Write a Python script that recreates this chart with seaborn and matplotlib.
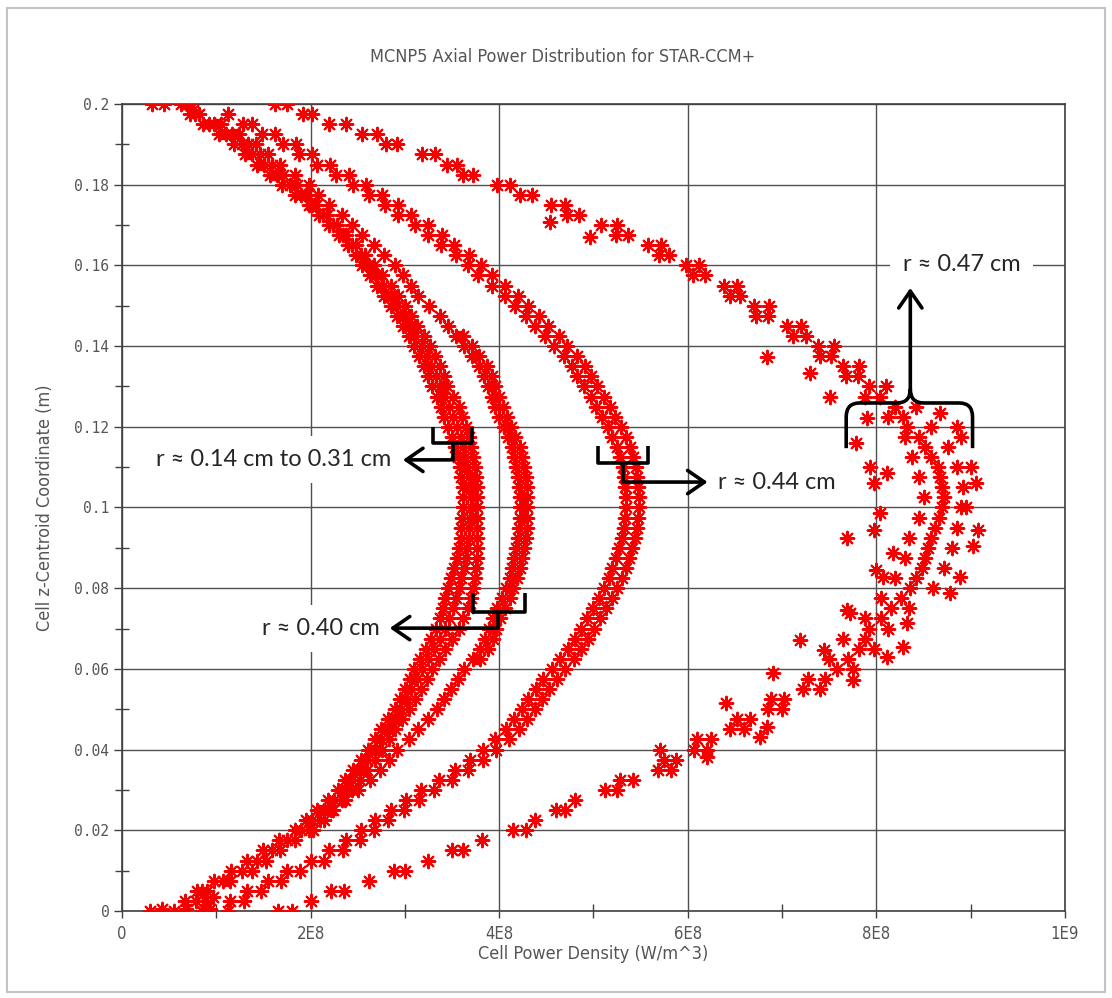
import matplotlib
matplotlib.use("Agg")
import matplotlib.pyplot as plt
from matplotlib.patches import Rectangle, PathPatch
from matplotlib.path import Path
import numpy as np
import pandas as pd
import seaborn as sns

nan = np.nan

# cell z-centroid levels (m)
z_levels = [0.2, 0.1975, 0.195, 0.1925, 0.19, 0.1875, 0.185, 0.1825, 0.18, 0.1775,
            0.175, 0.1725, 0.17, 0.1675, 0.165, 0.1625, 0.16, 0.1575, 0.155, 0.1525,
            0.15, 0.1475, 0.145, 0.1425, 0.14, 0.1375, 0.135, 0.1325, 0.13, 0.1275,
            0.125, 0.1225, 0.12, 0.1175, 0.115, 0.1125, 0.11, 0.1075, 0.105, 0.1025,
            0.1, 0.0975, 0.095, 0.0925, 0.09, 0.0875, 0.085, 0.0825, 0.08, 0.0775,
            0.075, 0.0725, 0.07, 0.0675, 0.065, 0.0625, 0.06, 0.0575, 0.055, 0.0525,
            0.05, 0.0475, 0.045, 0.0425, 0.04, 0.0375, 0.035, 0.0325, 0.03, 0.0275,
            0.025, 0.0225, 0.02, 0.0175, 0.015, 0.0125, 0.01, 0.0075, 0.005, 0.0025,
            0.0]

# cell power density, in units of 1E8 W/m^3
# r ~ 0.14 cm to 0.31 cm (thick inner band)
a_left = [0.32, 0.72, 0.86, 1.03, 1.19, 1.30, 1.43, 1.57, 1.70, 1.83,
          1.98, 2.09, 2.20, 2.30, 2.40, 2.48, 2.55, 2.63, 2.70, 2.78,
          2.85, 2.92, 2.98, 3.04, 3.10, 3.15, 3.20, 3.25, 3.29, 3.34,
          3.38, 3.42, 3.46, 3.50, 3.53, 3.56, 3.58, 3.60, 3.62, 3.62,
          3.62, 3.61, 3.60, 3.59, 3.57, 3.55, 3.52, 3.49, 3.46, 3.43,
          3.40, 3.37, 3.33, 3.28, 3.22, 3.16, 3.10, 3.05, 3.00, 2.95,
          2.89, 2.82, 2.75, 2.68, 2.61, 2.53, 2.45, 2.37, 2.29, 2.18,
          2.07, 1.95, 1.83, 1.67, 1.50, 1.33, 1.16, 0.98, 0.80, 0.67,
          0.30]
a_mid = [0.45, 0.77, 0.92, 1.10, 1.27, 1.38, 1.51, 1.64, 1.78, 1.90,
         2.02, 2.13, 2.24, 2.34, 2.44, 2.53, 2.61, 2.69, 2.77, 2.85,
         2.92, 2.99, 3.05, 3.11, 3.18, 3.23, 3.28, 3.33, 3.37, 3.42,
         3.47, 3.51, 3.55, 3.59, 3.62, 3.64, 3.66, 3.68, 3.69, 3.70,
         3.70, 3.69, 3.68, 3.68, 3.66, 3.65, 3.63, 3.60, 3.57, 3.54,
         3.51, 3.47, 3.43, 3.37, 3.31, 3.24, 3.18, 3.13, 3.07, 3.02,
         2.96, 2.89, 2.82, 2.75, 2.68, 2.60, 2.52, 2.44, 2.36, 2.25,
         2.14, 2.02, 1.90, 1.75, 1.59, 1.43, 1.27, 1.07, 0.85, 0.78,
         0.55]
a_right = [0.70, 0.82, 0.98, 1.17, 1.34, 1.46, 1.59, 1.71, 1.86, 1.96,
           2.06, 2.17, 2.28, 2.38, 2.48, 2.58, 2.67, 2.76, 2.85, 2.93,
           3.00, 3.07, 3.13, 3.20, 3.27, 3.32, 3.37, 3.41, 3.45, 3.51,
           3.57, 3.61, 3.65, 3.68, 3.70, 3.72, 3.74, 3.75, 3.76, 3.77,
           3.77, 3.77, 3.77, 3.77, 3.76, 3.76, 3.75, 3.74, 3.72, 3.70,
           3.67, 3.62, 3.57, 3.50, 3.43, 3.36, 3.29, 3.23, 3.17, 3.11,
           3.04, 2.97, 2.90, 2.83, 2.76, 2.68, 2.60, 2.52, 2.44, 2.33,
           2.22, 2.10, 1.98, 1.83, 1.68, 1.53, 1.38, 1.15, 0.90, 0.88,
           0.85]
a_end_z = [0.2, 0.1985, 0.0005, 0.0005, 0.0005, 0.0035]
a_end_x = [0.63, 0.75, 0.42, 0.68, 0.93, 0.97]

# r ~ 0.40 cm
b_main = [nan, nan, 1.05, 1.24, 1.42, 1.55, 1.68, 1.84, 1.98, 2.08,
          2.20, 2.33, 2.44, 2.55, 2.67, 2.78, 2.89, 2.98, 3.06, 3.14,
          3.26, 3.37, 3.46, 3.54, 3.63, 3.71, 3.79, 3.84, 3.88, 3.92,
          3.96, 4.00, 4.05, 4.09, 4.14, 4.16, 4.18, 4.20, 4.21, 4.22,
          4.22, 4.22, 4.21, 4.20, 4.18, 4.16, 4.14, 4.11, 4.07, 4.03,
          3.98, 3.93, 3.89, 3.85, 3.80, 3.72, 3.63, 3.56, 3.49, 3.42,
          3.34, 3.24, 3.14, 3.04, 2.92, 2.83, 2.74, 2.63, 2.50, 2.37,
          2.24, 2.14, 2.03, nan, nan, nan, nan, nan, nan, nan,
          nan]
b_side = [nan, nan, nan, nan, nan, nan, nan, nan, nan, nan,
          nan, nan, nan, nan, nan, nan, nan, nan, nan, nan,
          nan, nan, nan, 3.62, 3.71, 3.79, 3.87, 3.92, 3.96, 4.00,
          4.04, 4.08, 4.13, 4.17, 4.22, 4.24, 4.26, 4.28, 4.29, 4.30,
          4.30, 4.30, 4.29, 4.28, 4.26, 4.24, 4.22, 4.19, 4.15, 4.11,
          4.06, 4.01, 3.97, 3.93, 3.88, 3.80, nan, nan, nan, nan,
          nan, nan, nan, nan, nan, nan, nan, nan, nan, nan,
          nan, nan, nan, nan, nan, nan, nan, nan, nan, nan,
          nan]

# r ~ 0.44 cm
c_left = [nan, 1.12, 1.28, 1.48, 1.71, 1.88, 2.07, 2.27, 2.45, 2.62,
          2.79, 2.93, 3.11, 3.25, 3.38, 3.54, 3.67, 3.78, 3.92, 4.06,
          4.17, 4.28, 4.38, 4.49, 4.58, 4.69, 4.77, 4.83, 4.90, 4.97,
          5.03, 5.09, 5.15, 5.20, 5.25, 5.28, 5.31, 5.32, 5.33, 5.34,
          5.34, 5.33, 5.32, 5.30, 5.27, 5.24, 5.20, 5.16, 5.11, 5.06,
          4.99, 4.93, 4.87, 4.80, 4.73, 4.65, 4.56, 4.47, 4.39, 4.31,
          4.24, 4.16, 4.07, 3.96, 3.83, 3.69, 3.53, 3.36, 3.17, 3.01,
          2.85, 2.68, 2.53, 2.38, 2.20, 2.00, 1.75, 1.55, 1.33, 1.15,
          1.12]
c_right = [nan, nan, 1.38, 1.62, 1.85, 2.02, 2.21, 2.41, 2.59, 2.76,
           2.93, 3.07, 3.25, 3.39, 3.52, 3.68, 3.81, 3.92, 4.06, 4.20,
           4.31, 4.42, 4.52, 4.63, 4.72, 4.83, 4.91, 4.97, 5.04, 5.11,
           5.17, 5.23, 5.29, 5.34, 5.39, 5.42, 5.45, 5.46, 5.47, 5.48,
           5.48, 5.47, 5.46, 5.44, 5.41, 5.38, 5.34, 5.30, 5.25, 5.20,
           5.13, 5.07, 5.01, 4.94, 4.87, 4.79, 4.70, 4.61, 4.53, 4.45,
           4.38, 4.30, 4.21, 4.10, 3.97, 3.83, 3.67, 3.50, 3.31, 3.15,
           2.99, 2.82, 2.67, 2.52, 2.34, 2.14, 1.89, 1.69, 1.47, 1.29,
           nan]

# r ~ 0.47 cm (outer, scattered band)
d_main = [1.75, 2.02, 2.20, 2.55, 2.92, 3.18, 3.45, 3.72, 3.98, 4.35,
          4.55, 4.85, 5.08, 5.37, 5.58, 5.80, 5.98, 6.18, 6.38, 6.55,
          6.70, 6.85, 7.05, 7.25, 7.38, 7.52, 7.65, 7.80, 7.92, 8.04,
          8.20, 8.28, 8.33, 8.45, 8.52, 8.58, 8.65, 8.68, 8.70, 8.72,
          8.70, 8.66, 8.62, 8.58, 8.55, 8.52, 8.48, 8.42, 8.36, 8.26,
          8.15, 8.05, 7.92, 7.88, 7.82, 7.70, 7.58, 7.45, 7.22, 7.02,
          6.85, 6.66, 6.45, 6.25, 6.07, 5.88, 5.68, 5.42, 5.12, 4.80,
          4.60, 4.38, 4.15, 3.82, 3.50, 3.25, 2.88, 2.62, 2.22, 2.00,
          1.80]
d_side = [1.62, 1.92, 2.38, 2.70, 2.80, 3.32, 3.55, 3.62, 4.12, 4.22,
          4.70, 4.72, 5.25, 5.24, 5.72, 5.70, 6.12, 6.06, 6.52, 6.45,
          6.86, 6.72, 7.20, 7.12, 7.55, 7.40, 7.82, 7.68, 8.10, 7.88,
          8.42, 8.12, 8.58, 8.30, 8.76, 8.38, 8.86, 8.45, 8.92, 8.50,
          8.90, 8.45, 8.86, 8.35, 8.80, 8.30, 8.72, 8.20, 8.60, 8.05,
          8.35, 7.88, 8.12, 7.65, 7.98, 7.50, 7.75, 7.28, 7.40, 6.88,
          7.00, 6.52, 6.60, 6.10, 6.20, 5.75, 5.82, 5.28, 5.25, nan,
          4.70, nan, 4.28, nan, 3.62, nan, 3.00, nan, 2.35, nan,
          1.65]
d_out_z = [0.0924, 0.0944, 0.1085, 0.110, 0.106, 0.116, 0.1222, 0.0944, 0.106, 0.110,
           0.120, 0.1234, 0.0828, 0.0788, 0.0887, 0.0828, 0.0986, 0.0845, 0.0746, 0.0672,
           0.0647, 0.0573, 0.063, 0.0714, 0.0655, 0.0739, 0.0515, 0.0456, 0.059, 0.0431,
           0.0382, 0.0399, 0.1373, 0.1333, 0.1274, 0.167, 0.1708, 0.1175, 0.100, 0.0905]
d_out_x = [7.69, 7.97, 8.11, 7.93, 7.97, 7.78, 7.90, 9.08, 9.06, 9.00,
           8.85, 8.67, 8.89, 8.78, 8.18, 8.07, 8.04, 8.00, 7.69, 7.19,
           7.44, 7.75, 8.11, 8.32, 8.28, 7.72, 6.41, 6.84, 6.90, 6.77,
           6.20, 5.71, 6.84, 7.30, 7.51, 4.96, 4.54, 8.90, 8.95, 9.02]

x_ticks = [0, 2e8, 4e8, 6e8, 8e8, 1e9]
x_tick_labels = ["0", "2E8", "4E8", "6E8", "8E8", "1E9"]
x_minor = [1e8, 3e8, 5e8, 7e8, 9e8]
y_ticks = [0, 0.02, 0.04, 0.06, 0.08, 0.1, 0.12, 0.14, 0.16, 0.18, 0.2]
y_tick_labels = ["0", "0.02", "0.04", "0.06", "0.08", "0.1", "0.12", "0.14", "0.16", "0.18", "0.2"]
y_minor = [0.01, 0.03, 0.05, 0.07, 0.09, 0.11, 0.13, 0.15, 0.17, 0.19]

# build one table of all cells
frames = []
for xs in [a_left, a_mid, a_right, b_main, b_side, c_left, c_right, d_main, d_side]:
    frames.append(pd.DataFrame({"z": z_levels, "power": xs}))
frames.append(pd.DataFrame({"z": a_end_z, "power": a_end_x}))
frames.append(pd.DataFrame({"z": d_out_z, "power": d_out_x}))
cells = pd.concat(frames).dropna()
cells["power"] = cells["power"] * 1e8

sns.set_theme(style="white")
plt.rcParams["font.family"] = ["DejaVu Sans"]

fig = plt.figure(figsize=(11.12, 9.98), dpi=100)
ax = fig.add_axes([0.1097, 0.0872, 0.848, 0.8086])

sns.scatterplot(data=cells, x="power", y="z", ax=ax, color="#f50000",
                marker=(8, 2, 0), s=95, linewidth=1.5, legend=False, zorder=3)

ax.set_xlim(0, 1e9)
ax.set_ylim(0, 0.2)
ax.set_xticks(x_ticks)
ax.set_xticklabels(x_tick_labels)
ax.set_xticks(x_minor, minor=True)
ax.set_yticks(y_ticks)
ax.set_yticklabels(y_tick_labels)
ax.set_yticks(y_minor, minor=True)

ax.set_axisbelow(True)
ax.grid(True, which="major", color="#505050", linewidth=1.0)
for sp in ax.spines.values():
    sp.set_color("#404040")
    sp.set_linewidth(1.2)

ax.tick_params(axis="x", which="major", bottom=True, direction="out", length=5, width=1,
               color="#404040", labelsize=12, labelcolor="#555555", pad=5)
ax.tick_params(axis="x", which="minor", bottom=True, direction="inout", length=10, width=1,
               color="#404040")
ax.tick_params(axis="y", which="major", left=True, direction="out", length=6, width=1,
               color="#404040", labelsize=10.5, labelcolor="#555555", pad=3)
ax.tick_params(axis="y", which="minor", left=True, direction="inout", length=10, width=1,
               color="#404040")
for lbl in ax.get_yticklabels():
    lbl.set_fontfamily("DejaVu Sans Mono")
for lbl in ax.get_xticklabels():
    lbl.set_fontstretch("condensed")

ax.set_xlabel("Cell Power Density (W/m^3)", fontsize=13, color="#555555", fontstretch="condensed")
ax.set_ylabel("Cell z-Centroid Coordinate (m)", fontsize=13, color="#555555", fontstretch="condensed")
ax.xaxis.set_label_coords(0.5, -0.042)
ax.yaxis.set_label_coords(-0.072, 0.5)

fig.text(563 / 1112, 1 - 57 / 998, "MCNP5 Axial Power Distribution for STAR-CCM+",
         ha="center", va="center", fontsize=13, color="#555555", fontstretch="condensed")

# outer frame
fig.patches.append(Rectangle((7 / 1112, 1 - 992 / 998), 1098 / 1112, 984 / 998,
                             transform=fig.transFigure, fill=False,
                             edgecolor="#c4c4c4", linewidth=1.5))

# annotations
ann_font = ["Lato", "DejaVu Sans"]
line_kw = dict(color="black", linewidth=2.6, solid_capstyle="butt", zorder=6)
arrow_kw = dict(arrowstyle="->,head_length=0.55,head_width=0.38", color="black",
                linewidth=2.6, shrinkA=0, shrinkB=0, mutation_scale=22)
box = dict(boxstyle="square,pad=0.55", facecolor="white", edgecolor="none")


def bracket(x0, x1, top, h, xm, stem_end, tip_x):
    ax.plot([x0, x0, x1, x1], [top, h, h, top], **line_kw)
    ax.plot([xm, xm], [h, stem_end], **line_kw)
    ax.annotate("", xy=(tip_x, stem_end), xytext=(xm, stem_end),
                arrowprops=arrow_kw, zorder=6)


bracket(3.30e8, 3.71e8, 0.1199, 0.1160, 3.51e8, 0.1118, 2.98e8)
ax.text(2.86e8, 0.1118, "r \u2248 0.14 cm to 0.31 cm", ha="right", va="center",
        fontsize=17, family=ann_font, bbox=box, zorder=4)

bracket(3.72e8, 4.27e8, 0.0788, 0.0741, 3.99e8, 0.0701, 2.84e8)
ax.text(2.73e8, 0.0700, "r \u2248 0.40 cm", ha="right", va="center",
        fontsize=17, family=ann_font, bbox=box, zorder=4)

bracket(5.05e8, 5.58e8, 0.1152, 0.1110, 5.31e8, 0.1063, 6.21e8)
ax.text(6.32e8, 0.1062, "r \u2248 0.44 cm", ha="left", va="center",
        fontsize=17, family=ann_font, bbox=box, zorder=4)

# curly brace for the outer band
x0, x1, xm = 7.68e8, 9.02e8, 8.36e8
zb, zh = 0.1147, 0.1259
rx, rz = 0.14e8, 0.0035
verts = [(x0, zb), (x0, zh - rz), (x0, zh), (x0 + rx, zh), (xm - rx, zh), (xm, zh), (xm, zh + rz),
         (x1, zb), (x1, zh - rz), (x1, zh), (x1 - rx, zh), (xm + rx, zh), (xm, zh), (xm, zh + rz)]
codes = [Path.MOVETO, Path.LINETO, Path.CURVE3, Path.CURVE3, Path.LINETO, Path.CURVE3, Path.CURVE3,
         Path.MOVETO, Path.LINETO, Path.CURVE3, Path.CURVE3, Path.LINETO, Path.CURVE3, Path.CURVE3]
ax.add_patch(PathPatch(Path(verts, codes), fill=False, edgecolor="black", linewidth=2.6, zorder=6))
ax.annotate("", xy=(xm, 0.1544), xytext=(xm, zh + rz), arrowprops=arrow_kw, zorder=6)
ax.text(8.28e8, 0.1601, "r \u2248 0.47 cm", ha="left", va="center",
        fontsize=17, family=ann_font, bbox=box, zorder=4)

fig.savefig("out.png", dpi=100)
